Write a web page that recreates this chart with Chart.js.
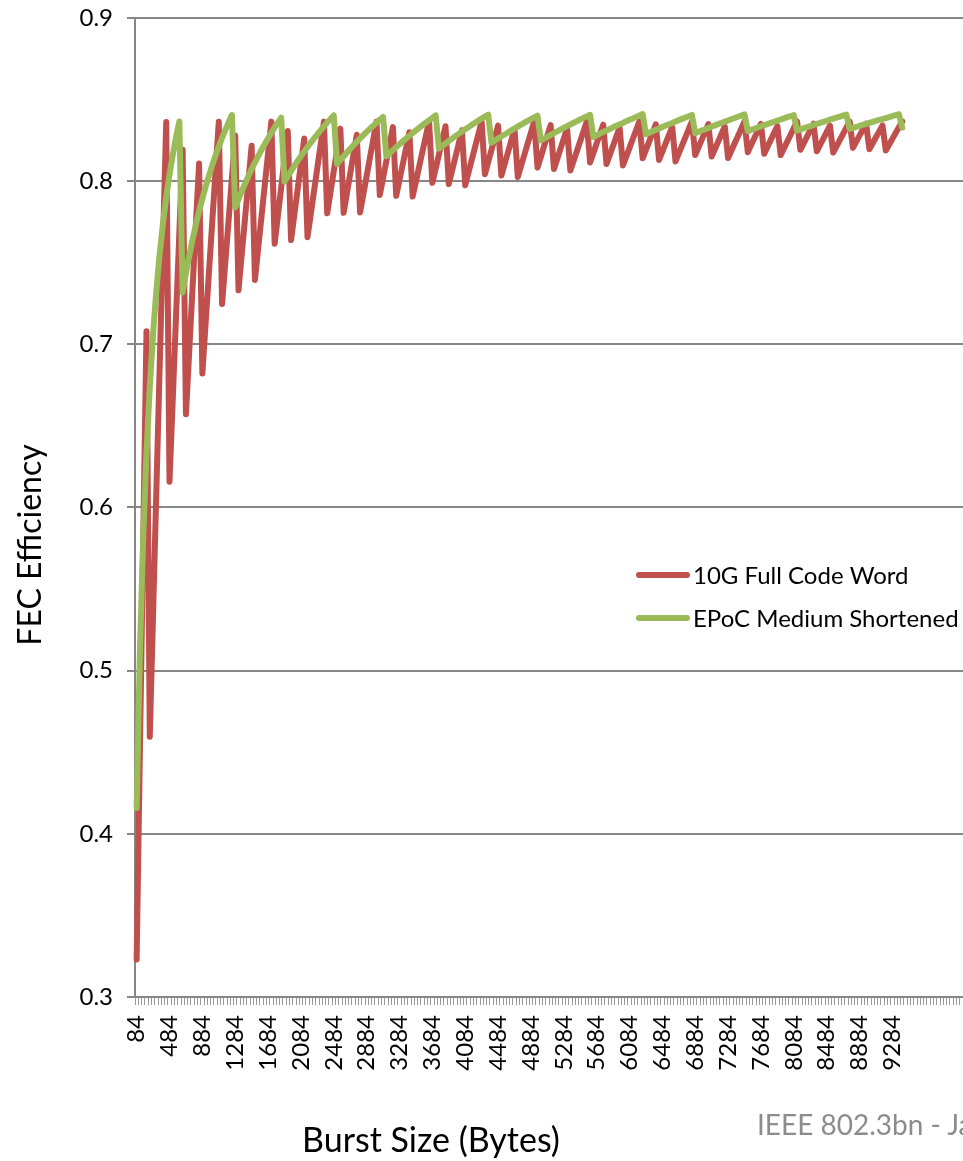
<!DOCTYPE html>
<html>
<head>
<meta charset="utf-8">
<title>FEC Efficiency</title>
<script src="https://cdn.jsdelivr.net/npm/chart.js@4.4.0/dist/chart.umd.min.js"></script>
<style>
  html, body { margin: 0; padding: 0; background: #fff; overflow: hidden; }
  #wrap { position: relative; width: 963px; height: 1161px; overflow: hidden; }
  #footer { position: absolute; left: 757px; top: 1107px; font: 28px Lato, sans-serif; color: #8c8c8c; white-space: nowrap; }
</style>
</head>
<body>
<div id="wrap">
  <canvas id="fecChart" width="963" height="1161"></canvas>
  <div id="footer">IEEE 802.3bn - Ja</div>
</div>
<script>
// Burst sizes (bytes), one category per row of the sheet
const burstSizes = [
  84, 124, 164, 204, 244, 284, 324, 364, 404, 444,
  484, 524, 564, 604, 644, 684, 724, 764, 804, 844,
  884, 924, 964, 1004, 1044, 1084, 1124, 1164, 1204, 1244,
  1284, 1324, 1364, 1404, 1444, 1484, 1524, 1564, 1604, 1644,
  1684, 1724, 1764, 1804, 1844, 1884, 1924, 1964, 2004, 2044,
  2084, 2124, 2164, 2204, 2244, 2284, 2324, 2364, 2404, 2444,
  2484, 2524, 2564, 2604, 2644, 2684, 2724, 2764, 2804, 2844,
  2884, 2924, 2964, 3004, 3044, 3084, 3124, 3164, 3204, 3244,
  3284, 3324, 3364, 3404, 3444, 3484, 3524, 3564, 3604, 3644,
  3684, 3724, 3764, 3804, 3844, 3884, 3924, 3964, 4004, 4044,
  4084, 4124, 4164, 4204, 4244, 4284, 4324, 4364, 4404, 4444,
  4484, 4524, 4564, 4604, 4644, 4684, 4724, 4764, 4804, 4844,
  4884, 4924, 4964, 5004, 5044, 5084, 5124, 5164, 5204, 5244,
  5284, 5324, 5364, 5404, 5444, 5484, 5524, 5564, 5604, 5644,
  5684, 5724, 5764, 5804, 5844, 5884, 5924, 5964, 6004, 6044,
  6084, 6124, 6164, 6204, 6244, 6284, 6324, 6364, 6404, 6444,
  6484, 6524, 6564, 6604, 6644, 6684, 6724, 6764, 6804, 6844,
  6884, 6924, 6964, 7004, 7044, 7084, 7124, 7164, 7204, 7244,
  7284, 7324, 7364, 7404, 7444, 7484, 7524, 7564, 7604, 7644,
  7684, 7724, 7764, 7804, 7844, 7884, 7924, 7964, 8004, 8044,
  8084, 8124, 8164, 8204, 8244, 8284, 8324, 8364, 8404, 8444,
  8484, 8524, 8564, 8604, 8644, 8684, 8724, 8764, 8804, 8844,
  8884, 8924, 8964, 9004, 9044, 9084, 9124, 9164, 9204, 9244,
  9284, 9324, 9364, 9404
];

const seriesNames = ['10G Full Code Word', 'EPoC Medium Shortened'];

// 10G Full Code Word
const fullCodeWord = [
  0.323, 0.452, 0.580, 0.708, 0.4595, 0.5348, 0.6102, 0.6855, 0.7608, 0.8362,
  0.6158, 0.6667, 0.7176, 0.7684, 0.8193, 0.6571, 0.6955, 0.7339, 0.7723, 0.8108,
  0.6821, 0.7130, 0.7438, 0.7747, 0.8056, 0.8364, 0.7247, 0.7505, 0.7763, 0.8021,
  0.8279, 0.7331, 0.7553, 0.7774, 0.7996, 0.8217, 0.7394, 0.7589, 0.7783, 0.7977,
  0.8171, 0.8365, 0.7617, 0.7789, 0.7962, 0.8135, 0.8307, 0.7639, 0.7795, 0.7950,
  0.8106, 0.8261, 0.7657, 0.7799, 0.7941, 0.8082, 0.8224, 0.8365, 0.7803, 0.7932,
  0.8062, 0.8192, 0.8322, 0.7806, 0.7926, 0.8046, 0.8165, 0.8285, 0.7808, 0.7920,
  0.8031, 0.8143, 0.8254, 0.8365, 0.7915, 0.8019, 0.8123, 0.8227, 0.8331, 0.7910,
  0.8008, 0.8105, 0.8203, 0.8300, 0.7906, 0.7998, 0.8090, 0.8182, 0.8274, 0.8365,
  0.7990, 0.8076, 0.8163, 0.8250, 0.8337, 0.7982, 0.8064, 0.8146, 0.8228, 0.8311,
  0.7975, 0.8053, 0.8131, 0.8209, 0.8287, 0.8366, 0.8043, 0.8118, 0.8192, 0.8266,
  0.8341, 0.8034, 0.8105, 0.8176, 0.8247, 0.8318, 0.8026, 0.8094, 0.8162, 0.8230,
  0.8298, 0.8366, 0.8083, 0.8148, 0.8214, 0.8279, 0.8344, 0.8074, 0.8136, 0.8199,
  0.8261, 0.8324, 0.8065, 0.8125, 0.8185, 0.8245, 0.8305, 0.8366, 0.8115, 0.8173,
  0.8231, 0.8289, 0.8346, 0.8105, 0.8161, 0.8217, 0.8273, 0.8328, 0.8096, 0.8150,
  0.8204, 0.8258, 0.8312, 0.8366, 0.8140, 0.8192, 0.8244, 0.8296, 0.8348, 0.8130,
  0.8181, 0.8231, 0.8282, 0.8332, 0.8121, 0.8170, 0.8219, 0.8268, 0.8317, 0.8366,
  0.8160, 0.8208, 0.8255, 0.8303, 0.8350, 0.8151, 0.8197, 0.8243, 0.8289, 0.8335,
  0.8142, 0.8187, 0.8232, 0.8276, 0.8321, 0.8366, 0.8177, 0.8221, 0.8264, 0.8308,
  0.8351, 0.8168, 0.8211, 0.8253, 0.8295, 0.8338, 0.8160, 0.8201, 0.8242, 0.8283,
  0.8325, 0.8366, 0.8192, 0.8232, 0.8272, 0.8312, 0.8352, 0.8183, 0.8222, 0.8261,
  0.8301, 0.8340, 0.8175, 0.8213, 0.8251, 0.8289, 0.8328, 0.8366, 0.8204, 0.8242,
  0.8279, 0.8316, 0.8353, 0.8196, 0.8232, 0.8269, 0.8305, 0.8342, 0.8188, 0.8223,
  0.8259, 0.8295, 0.8330, 0.8366
];

// EPoC Medium Shortened
const epocShortened = [
  0.4158, 0.5124, 0.5816, 0.6335, 0.6740, 0.7065, 0.7330, 0.7552, 0.7739, 0.7900,
  0.8040, 0.8162, 0.8270, 0.8366, 0.7318, 0.7435, 0.7542, 0.7640, 0.7731, 0.7815,
  0.7893, 0.7966, 0.8033, 0.8097, 0.8156, 0.8212, 0.8265, 0.8314, 0.8361, 0.8405,
  0.7839, 0.7890, 0.7939, 0.7986, 0.8031, 0.8074, 0.8115, 0.8154, 0.8192, 0.8228,
  0.8263, 0.8296, 0.8329, 0.8360, 0.8389, 0.7997, 0.8030, 0.8062, 0.8094, 0.8124,
  0.8153, 0.8182, 0.8209, 0.8236, 0.8262, 0.8287, 0.8312, 0.8336, 0.8359, 0.8381,
  0.8403, 0.8105, 0.8129, 0.8153, 0.8176, 0.8198, 0.8220, 0.8241, 0.8262, 0.8282,
  0.8302, 0.8321, 0.8340, 0.8358, 0.8376, 0.8394, 0.8152, 0.8171, 0.8190, 0.8209,
  0.8226, 0.8244, 0.8261, 0.8278, 0.8295, 0.8311, 0.8327, 0.8343, 0.8358, 0.8373,
  0.8388, 0.8403, 0.8200, 0.8216, 0.8231, 0.8246, 0.8261, 0.8276, 0.8290, 0.8304,
  0.8318, 0.8331, 0.8345, 0.8358, 0.8371, 0.8384, 0.8396, 0.8408, 0.8235, 0.8248,
  0.8261, 0.8274, 0.8286, 0.8298, 0.8311, 0.8323, 0.8335, 0.8346, 0.8358, 0.8369,
  0.8380, 0.8391, 0.8402, 0.8249, 0.8261, 0.8272, 0.8283, 0.8294, 0.8305, 0.8316,
  0.8327, 0.8337, 0.8347, 0.8358, 0.8368, 0.8378, 0.8388, 0.8397, 0.8407, 0.8271,
  0.8281, 0.8291, 0.8301, 0.8310, 0.8320, 0.8330, 0.8339, 0.8348, 0.8357, 0.8367,
  0.8376, 0.8384, 0.8393, 0.8402, 0.8411, 0.8288, 0.8297, 0.8306, 0.8315, 0.8323,
  0.8332, 0.8341, 0.8349, 0.8357, 0.8366, 0.8374, 0.8382, 0.8390, 0.8398, 0.8406,
  0.8294, 0.8302, 0.8310, 0.8318, 0.8326, 0.8334, 0.8342, 0.8350, 0.8357, 0.8365,
  0.8372, 0.8380, 0.8387, 0.8395, 0.8402, 0.8409, 0.8306, 0.8314, 0.8321, 0.8329,
  0.8336, 0.8343, 0.8350, 0.8357, 0.8364, 0.8371, 0.8378, 0.8385, 0.8392, 0.8398,
  0.8405, 0.8310, 0.8317, 0.8324, 0.8331, 0.8337, 0.8344, 0.8351, 0.8357, 0.8364,
  0.8370, 0.8377, 0.8383, 0.8389, 0.8396, 0.8402, 0.8408, 0.8320, 0.8326, 0.8332,
  0.8339, 0.8345, 0.8351, 0.8357, 0.8363, 0.8369, 0.8375, 0.8381, 0.8387, 0.8393,
  0.8399, 0.8405, 0.8410, 0.8328
];

const yTitle = 'FEC Efficiency';
const xTitle = 'Burst Size (Bytes)';

// the plot area runs on past the right edge of the slide crop: empty categories
const EMPTY_SLOTS = 18;
const axisLabels = burstSizes.concat(new Array(EMPTY_SLOTS).fill(''));

const AXIS_GREY = '#878787';
const FONT = 'Lato, "Open Sans", sans-serif';

// legend sits inside the plot, plus the two axis titles
const overlay = {
    id: 'overlay',
    afterDraw(chart) {
        const ctx = chart.ctx;
        ctx.save();
        ctx.textBaseline = 'middle';
        chart.data.datasets.forEach((ds, k) => {
            const y = 575 + k * 43;
            ctx.strokeStyle = ds.borderColor;
            ctx.lineWidth = 6;
            ctx.lineCap = 'round';
            ctx.beginPath();
            ctx.moveTo(639, y);
            ctx.lineTo(687, y);
            ctx.stroke();
            ctx.fillStyle = '#000';
            ctx.font = '24px ' + FONT;
            ctx.textAlign = 'left';
            ctx.fillText(ds.label, 693, y + 1);
        });

        ctx.textAlign = 'center';
        ctx.fillStyle = '#000';
        ctx.font = '34px ' + FONT;
        ctx.fillText(xTitle, 431, 1141);
        ctx.font = '32px ' + FONT;
        ctx.translate(31, 545);
        ctx.rotate(-Math.PI / 2);
        ctx.fillText(yTitle, 0, 0);
        ctx.restore();
    }
};

// keep the plot box where the slide has it: no extra room for edge labels
const noEdgePadding = s => {
    s.paddingLeft = 0;
    s.paddingRight = 0;
    s.paddingTop = 0;
    s.paddingBottom = 0;
};

new Chart(document.getElementById('fecChart'), {
    type: 'line',
    data: {
        labels: axisLabels,
        datasets: [
            {
                label: seriesNames[0],
                data: fullCodeWord,
                borderColor: '#C0504D',
                borderWidth: 6,
                borderJoinStyle: 'round',
                borderCapStyle: 'round',
                pointRadius: 0,
                fill: false,
                tension: 0,
                order: 2
            },
            {
                label: seriesNames[1],
                data: epocShortened,
                borderColor: '#9BBB59',
                borderWidth: 6,
                borderJoinStyle: 'round',
                borderCapStyle: 'round',
                pointRadius: 0,
                fill: false,
                tension: 0,
                order: 1
            }
        ]
    },
    options: {
        responsive: false,
        animation: false,
        layout: { padding: { top: 18, right: 0, bottom: 0, left: 0 } },
        plugins: {
            legend: { display: false },
            tooltip: { enabled: false }
        },
        scales: {
            x: {
                type: 'category',
                offset: true,
                grid: {
                    offset: true,
                    drawOnChartArea: false,
                    tickLength: 8,
                    color: '#999999',
                    lineWidth: 1
                },
                border: { color: AXIS_GREY, width: 2 },
                ticks: {
                    autoSkip: false,
                    minRotation: 90,
                    maxRotation: 90,
                    padding: 10,
                    color: '#000',
                    font: { family: FONT, size: 24 },
                    callback: (v, i) => (i % 10 === 0 ? axisLabels[i] : '')
                },
                afterFit: s => { s.height = 164; noEdgePadding(s); }
            },
            y: {
                min: 0.3,
                max: 0.9,
                grid: { color: AXIS_GREY, lineWidth: 2, tickLength: 8 },
                border: { color: AXIS_GREY, width: 2 },
                ticks: {
                    stepSize: 0.1,
                    padding: 14,
                    color: '#000',
                    font: { family: FONT, size: 24 },
                    callback: v => v.toFixed(1)
                },
                afterFit: s => { s.width = 135; noEdgePadding(s); }
            }
        }
    },
    plugins: [overlay]
});
</script>
</body>
</html>
